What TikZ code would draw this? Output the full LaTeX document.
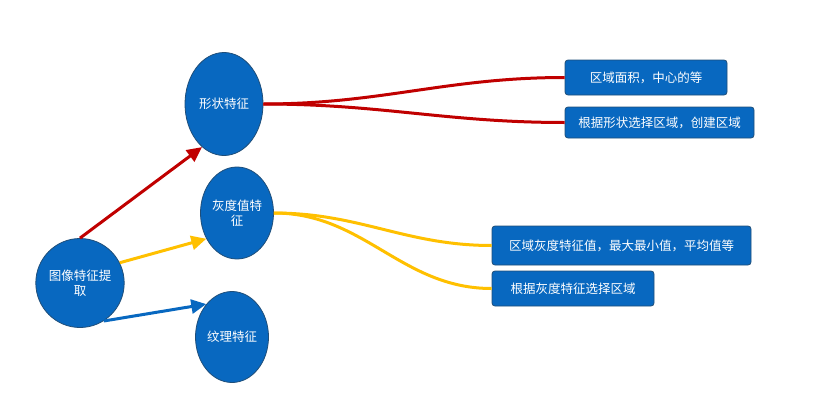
\documentclass[tikz,border=0pt]{standalone}
\usepackage{fontspec}
\newfontfamily\cjk{Noto Sans CJK SC}
\usetikzlibrary{arrows.meta,shapes.geometric}
\definecolor{nodeblue}{HTML}{0868C0}
\definecolor{edgeblue}{HTML}{1F4E79}
\definecolor{darkred}{HTML}{C00000}
\definecolor{amber}{HTML}{FFC000}

\begin{document}
\begin{tikzpicture}[
  x=1pt, y=-1pt,
  font=\cjk\fontsize{12.5}{15}\selectfont,
  feat/.style={ellipse, draw=edgeblue, line width=0.8pt, fill=nodeblue,
               text=white, inner sep=0pt, align=center},
  info/.style={rectangle, rounded corners=3pt, draw=edgeblue, line width=0.8pt,
               fill=nodeblue, text=white, inner sep=0pt, align=center},
  tip/.style={-{Triangle[length=15pt,width=14pt]}, line width=3pt},
  branch/.style={line width=3pt, out=0, in=180}
]
\useasboundingbox (0,0) rectangle (818,415);

\node[feat, minimum width=87pt, minimum height=89pt]  (extract) at (80,283)  {图像特征提\\取};
\node[feat, minimum width=78pt, minimum height=103pt] (shape)   at (224,104) {形状特征};
\node[feat, minimum width=73pt, minimum height=92pt]  (gray)    at (237,213) {灰度值特\\征};
\node[feat, minimum width=73pt, minimum height=91pt]  (texture) at (232,337) {纹理特征};

\node[info, minimum width=162pt, minimum height=35pt] (area)     at (646,77.5)  {区域面积，中心的等};
\node[info, minimum width=189pt, minimum height=31pt] (shapesel) at (659.5,122.5) {根据形状选择区域，创建区域};
\node[info, minimum width=259pt, minimum height=39pt] (grayval)  at (621.5,245.5) {区域灰度特征值，最大最小值，平均值等};
\node[info, minimum width=162pt, minimum height=35pt] (graysel)  at (573,288.5) {根据灰度特征选择区域};

% arrows to the features
\draw[tip, draw=darkred, fill=darkred] (extract.north) -- (shape.243);
\draw[tip, draw=amber, fill=amber] (extract.27) -- (gray.220);
\draw[tip, draw=nodeblue, fill=nodeblue] (extract.302) -- (texture.128);

% branches
\draw[branch, darkred] (shape.east) to (area.west);
\draw[branch, darkred] (shape.east) to (shapesel.west);
\draw[branch, amber] (gray.east) to (grayval.west);
\draw[branch, amber] (gray.east) to (graysel.west);
\end{tikzpicture}
\end{document}
